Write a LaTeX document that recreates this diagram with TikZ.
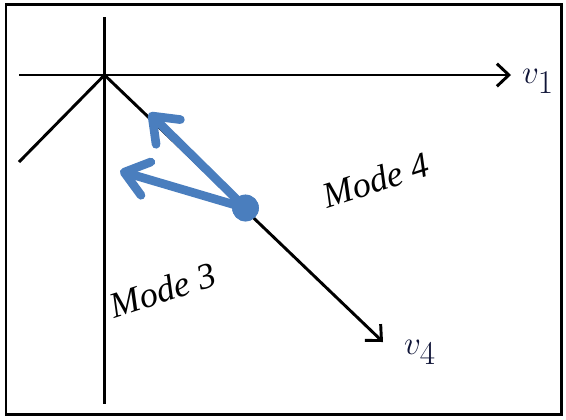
\documentclass[tikz,border=0pt]{standalone}
\usepackage{fontspec}
\usepackage{tikz}
\usetikzlibrary{arrows.meta}
\newfontfamily\labelfont{Liberation Serif}
\definecolor{modeblue}{RGB}{74,126,190}
\definecolor{veccol}{RGB}{15,20,55}

\begin{document}
\begin{tikzpicture}[
  x=0.75pt, y=-0.75pt,
  axis/.style={line width=2.2pt},
  edge/.style={axis, -{Straight Barb[length=9pt,width=17pt]}},
  push/.style={line width=6.5pt, draw=modeblue,
    -{Straight Barb[length=17pt,width=26pt,line cap=round,line join=round]}},
  state/.style={circle, fill=modeblue, minimum size=20pt, inner sep=0pt},
  modelabel/.style={font=\labelfont\fontsize{27}{31}\selectfont\itshape, rotate=18},
  veclabel/.style={font=\fontsize{35}{39}\selectfont, text=veccol}
]
  \useasboundingbox (0,0) rectangle (566,419);
  \draw[line width=2.2pt] (6,4.5) rectangle (561.5,414.5);

  \coordinate (O) at (104.5,75);
  \coordinate (top) at (104.5,17);
  \coordinate (bottom) at (104.5,404);
  \coordinate (left) at (19,75);
  \coordinate (v1end) at (511,75);
  \coordinate (lowleft) at (19,162);
  \coordinate (v4end) at (383,342);
  \coordinate (pushA) at (149,113);
  \coordinate (pushB) at (120,171);

  \node[state] (x) at (245.5,208) {};

  \node[veclabel] (v1) at (538,81) {$v_1$};
  \node[veclabel] (v4) at (420,352) {$v_4$};
  \node[modelabel] (mode4) at (376,180) {Mode 4};
  \node[modelabel] (mode3) at (163,290) {Mode 3};

  \draw[axis] (top) -- (bottom);
  \draw[edge] (left) -- (v1end);
  \draw[axis] (O) -- (lowleft);
  \draw[edge] (O) -- (v4end);

  \draw[push] (x.center) -- (pushA);
  \draw[push] (x.center) -- (pushB);
  \node[state] at (x) {};
\end{tikzpicture}
\end{document}
